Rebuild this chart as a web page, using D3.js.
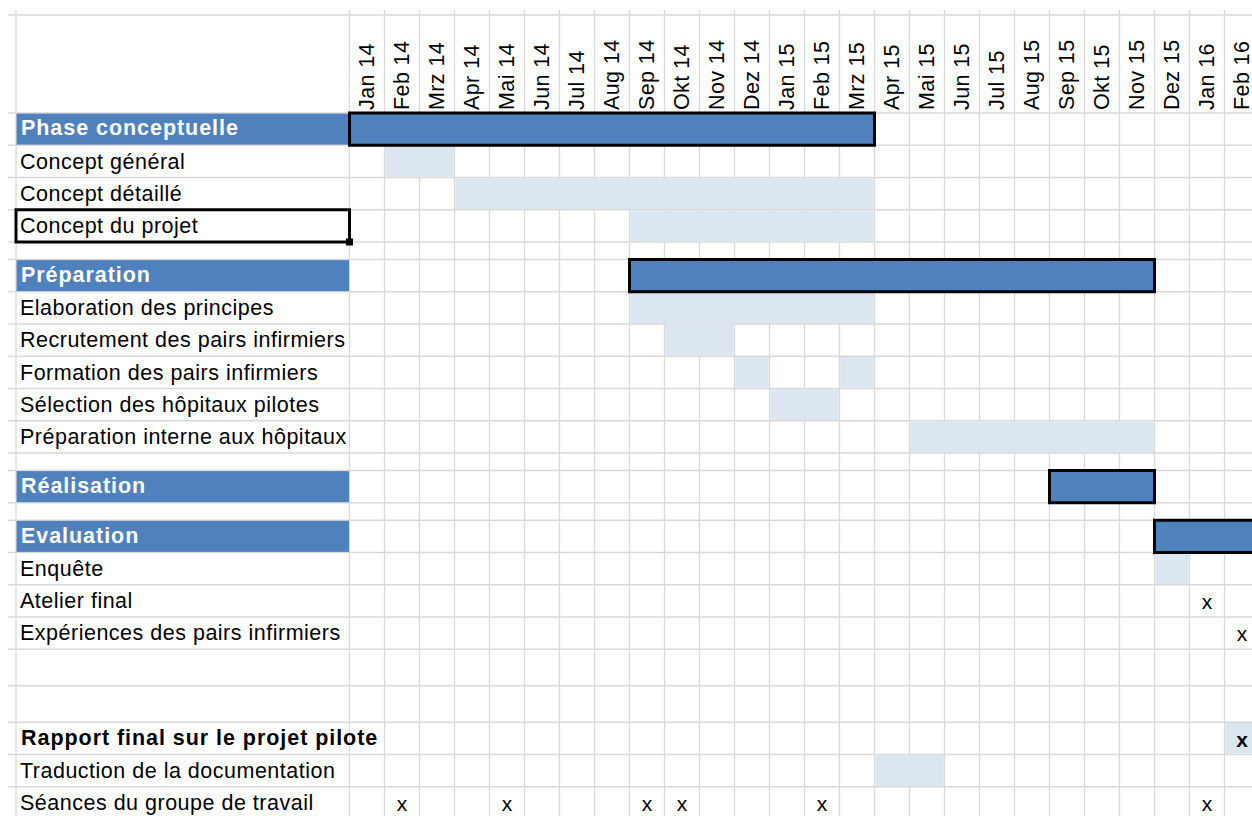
<!DOCTYPE html>
<html>
<head>
<meta charset="utf-8">
<script src="https://cdn.jsdelivr.net/npm/d3@7"></script>
<style>
  body { margin: 0; background: #fff; }
  text { font-family: "Liberation Sans", Arial, sans-serif; }
</style>
</head>
<body>
<div class="container"></div>
<script>
var months = ["Jan 14","Feb 14","Mrz 14","Apr 14","Mai 14","Jun 14","Jul 14","Aug 14","Sep 14","Okt 14","Nov 14","Dez 14",
              "Jan 15","Feb 15","Mrz 15","Apr 15","Mai 15","Jun 15","Jul 15","Aug 15","Sep 15","Okt 15","Nov 15","Dez 15",
              "Jan 16","Feb 16"];

var rowLabels = ["Phase conceptuelle","Concept général","Concept détaillé","Concept du projet","",
                 "Préparation","Elaboration des principes","Recrutement des pairs infirmiers","Formation des pairs infirmiers",
                 "Sélection des hôpitaux pilotes","Préparation interne aux hôpitaux","",
                 "Réalisation","",
                 "Evaluation","Enquête","Atelier final","Expériences des pairs infirmiers","","",
                 "Rapport final sur le projet pilote","Traduction de la documentation","Séances du groupe de travail"];
var rowKinds = ["phase","task","task","task","gap",
                "phase","task","task","task","task","task","gap",
                "phase","gap",
                "phase","task","task","task","blank","blank",
                "head","task","task"];

// phases (dark bars)
var phaseNames = ["Phase conceptuelle","Préparation","Réalisation","Evaluation"];
var phaseStart = ["Jan 14","Sep 14","Sep 15","Dez 15"];
var phaseEnd   = ["Mrz 15","Nov 15","Nov 15","Feb 16"];

// tasks (light shading)
var taskNames = ["Concept général","Concept détaillé","Concept du projet","Elaboration des principes",
                 "Recrutement des pairs infirmiers","Formation des pairs infirmiers","Formation des pairs infirmiers",
                 "Sélection des hôpitaux pilotes","Préparation interne aux hôpitaux","Enquête",
                 "Rapport final sur le projet pilote","Traduction de la documentation"];
var taskStart = ["Feb 14","Apr 14","Sep 14","Sep 14","Okt 14","Dez 14","Mrz 15","Jan 15","Mai 15","Dez 15","Feb 16","Apr 15"];
var taskEnd   = ["Mrz 14","Mrz 15","Mrz 15","Mrz 15","Nov 14","Dez 14","Mrz 15","Feb 15","Nov 15","Dez 15","Feb 16","Mai 15"];

// "x" marks
var markNames = ["Atelier final","Expériences des pairs infirmiers","Rapport final sur le projet pilote",
                 "Séances du groupe de travail","Séances du groupe de travail","Séances du groupe de travail",
                 "Séances du groupe de travail","Séances du groupe de travail","Séances du groupe de travail"];
var markMonths = ["Jan 16","Feb 16","Feb 16","Feb 14","Mai 14","Sep 14","Okt 14","Feb 15","Jan 16"];

buildChart();

function buildChart() {

  /* ===== SET UP ===== */
  var W = 1252, H = 816;
  var labelLeft = 16, gridLeft = 349.5, colW = 35;
  var headerTop = 15, headerBottom = 113;
  var rowH = {phase: 32.25, task: 32.25, head: 32.25, gap: 17.5, blank: 36.5};
  var blue = "#4f81bd", light = "#dce6f1", gridColor = "#d9d9d9";

  var svg = d3.select('.container')
    .append('svg')
    .attr('width', W)
    .attr('height', H);

  var xScale = d3.scaleBand()
    .domain(months)
    .range([gridLeft, gridLeft + colW * months.length])
    .padding(0);

  var tops = [], acc = headerBottom;
  rowKinds.forEach(function(k) { tops.push(acc); acc += rowH[k]; });
  var yScale = d3.scaleOrdinal()
    .domain(d3.range(rowKinds.length))
    .range(tops);
  function rowOf(name) { return rowLabels.indexOf(name); }
  function hOf(i) { return rowH[rowKinds[i]]; }

  /* ===== GRID ===== */
  var grid = svg.append('g').attr('stroke', gridColor).attr('stroke-width', 1.3);

  var hLines = [headerTop, headerBottom].concat(rowKinds.map(function(k, i) { return yScale(i) + hOf(i); }));
  grid.selectAll('.hl')
    .data(hLines)
    .enter().append('line')
    .attr('x1', 8).attr('x2', W)
    .attr('y1', function(d) { return d; })
    .attr('y2', function(d) { return d; });

  var vLines = [labelLeft].concat(months.map(function(m) { return xScale(m); }));
  vLines.push(xScale.range()[1]);
  grid.selectAll('.vl')
    .data(vLines)
    .enter().append('line')
    .attr('y1', 10).attr('y2', H)
    .attr('x1', function(d) { return d; })
    .attr('x2', function(d) { return d; });

  /* ===== HEADER ===== */
  svg.selectAll('.month')
    .data(months)
    .enter().append('text')
    .attr('transform', function(d) {
      return 'translate(' + (xScale(d) + 24) + ',' + (headerBottom - 3) + ') rotate(-90)';
    })
    .attr('font-size', '21.5px')
    .attr('letter-spacing', '0.4px')
    .attr('fill', '#000')
    .text(function(d) { return d; });

  /* ===== LABEL COLUMN ===== */
  var phaseRows = rowKinds.map(function(k, i) { return i; }).filter(function(i) { return rowKinds[i] === 'phase'; });
  svg.selectAll('.phaseCell')
    .data(phaseRows)
    .enter().append('rect')
    .attr('x', labelLeft + 0.5)
    .attr('y', function(i) { return yScale(i) + 0.6; })
    .attr('width', gridLeft - labelLeft - 1)
    .attr('height', function(i) { return hOf(i) - 1.2; })
    .attr('fill', blue);

  svg.selectAll('.label')
    .data(rowLabels.map(function(l, i) { return i; }).filter(function(i) { return rowLabels[i] !== ''; }))
    .enter().append('text')
    .attr('x', function(i) { return rowKinds[i] === 'task' ? 20 : 21; })
    .attr('y', function(i) { return yScale(i) + hOf(i) - (rowKinds[i] === 'task' ? 9 : 10); })
    .attr('font-size', '21.5px')
    .attr('letter-spacing', function(i) { return rowKinds[i] === 'task' ? '0.5px' : '0.95px'; })
    .attr('font-weight', function(i) { return rowKinds[i] === 'task' ? 'normal' : 'bold'; })
    .attr('fill', function(i) { return rowKinds[i] === 'phase' ? '#fff' : '#000'; })
    .text(function(i) { return rowLabels[i]; });

  // active cell frame
  var sel = rowOf("Concept du projet");
  svg.append('rect')
    .attr('x', labelLeft)
    .attr('y', yScale(sel))
    .attr('width', gridLeft - labelLeft)
    .attr('height', hOf(sel))
    .attr('fill', 'none')
    .attr('stroke', '#000')
    .attr('stroke-width', 3);
  svg.append('rect')
    .attr('x', gridLeft - 3.5)
    .attr('y', yScale(sel) + hOf(sel) - 3.5)
    .attr('width', 7).attr('height', 7)
    .attr('fill', '#000');

  /* ===== TASK SHADING ===== */
  svg.selectAll('.task')
    .data(taskNames)
    .enter().append('rect')
    .attr('x', function(d, i) { return xScale(taskStart[i]) + 0.7; })
    .attr('y', function(d) { return yScale(rowOf(d)) + 0.7; })
    .attr('width', function(d, i) { return xScale(taskEnd[i]) + xScale.bandwidth() - xScale(taskStart[i]) - 1.4; })
    .attr('height', function(d) { return hOf(rowOf(d)) - 1.4; })
    .attr('fill', light);

  /* ===== PHASE BARS ===== */
  svg.selectAll('.phase')
    .data(phaseNames)
    .enter().append('rect')
    .attr('x', function(d, i) { return xScale(phaseStart[i]); })
    .attr('y', function(d) { return yScale(rowOf(d)); })
    .attr('width', function(d, i) { return xScale(phaseEnd[i]) + xScale.bandwidth() - xScale(phaseStart[i]); })
    .attr('height', function(d) { return hOf(rowOf(d)); })
    .attr('fill', blue)
    .attr('stroke', '#000')
    .attr('stroke-width', 3);

  /* ===== MARKS ===== */
  svg.selectAll('.mark')
    .data(markNames)
    .enter().append('text')
    .attr('x', function(d, i) { return xScale(markMonths[i]) + xScale.bandwidth() / 2; })
    .attr('y', function(d) { var r = rowOf(d); return yScale(r) + hOf(r) - 8; })
    .attr('text-anchor', 'middle')
    .attr('font-size', '21px')
    .attr('font-weight', function(d) { return rowKinds[rowOf(d)] === 'head' ? 'bold' : 'normal'; })
    .attr('fill', '#000')
    .text('x');
}
</script>
</body>
</html>
